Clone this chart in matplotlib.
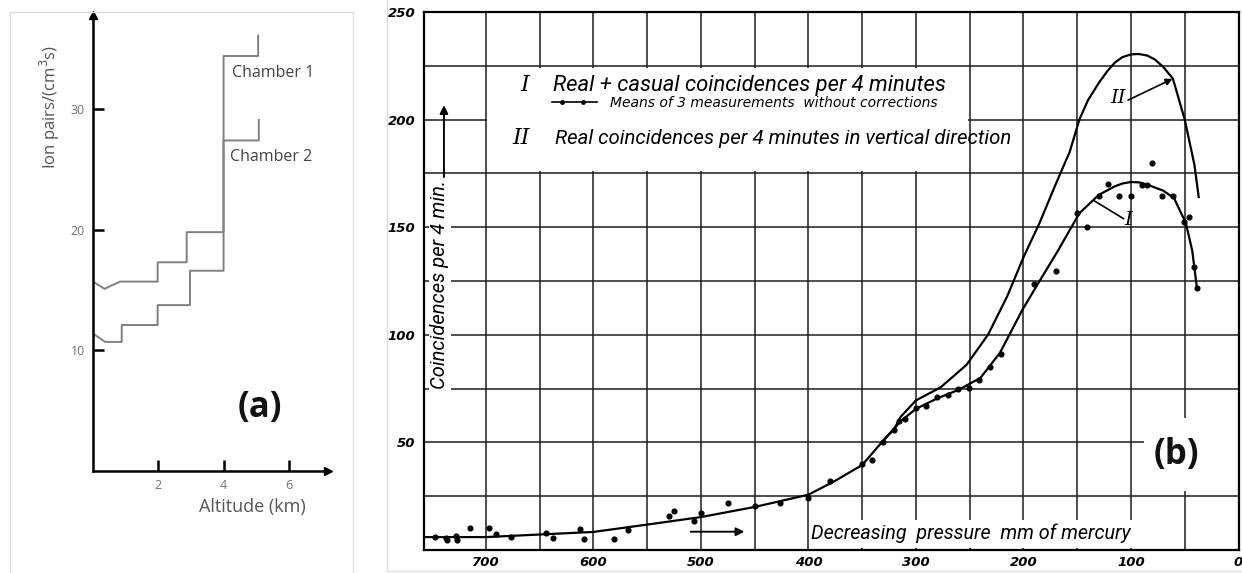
import matplotlib.pyplot as plt
from matplotlib.patches import Rectangle

# ── panel (a): ion pairs vs altitude, two chambers ──
alt_ch1 = [0, 0.35, 0.83, 1.98, 1.98, 2.87, 2.87, 4.0, 4.0, 5.06, 5.06]
ion_ch1 = [15.7, 15.1, 15.7, 15.7, 17.3, 17.3, 19.8, 19.8, 34.4, 34.4, 36.1]
alt_ch2 = [0, 0.37, 0.88, 0.88, 1.98, 1.98, 2.97, 2.97, 4.0, 4.0, 5.08, 5.08]
ion_ch2 = [11.4, 10.7, 10.7, 12.1, 12.1, 13.75, 13.75, 16.6, 16.6, 27.4, 27.4, 29.1]
alt_ticks = [2, 4, 6]
ion_ticks = [10, 20, 30]

# ── panel (b): coincidences vs pressure (mm Hg) ──
# curve I, real + casual coincidences
press_I = [758, 740, 700, 650, 600, 550, 500, 450, 400, 376, 350, 331, 320, 315, 300, 280,
           260, 240, 222, 201, 185, 168, 148, 130, 115, 108, 100, 92, 84, 70, 60, 49, 43, 38.5]
count_I = [6, 6, 6, 7.2, 8.4, 11.8, 15.3, 20, 25.7, 31.9, 39.5, 50.5, 56.5, 59.5, 65.6, 70.5,
           74.5, 80, 91.5, 111.6, 125, 139, 156.5, 165, 169, 170.3, 171, 170.8, 169.6, 167,
           163.5, 152, 139, 121]
# curve II, real coincidences in vertical direction (splits from I near 330 mm)
press_II = [331, 320, 314, 300, 277, 253, 233, 215, 200, 185, 170, 157, 148, 140, 130, 122,
            115, 108, 100, 93, 85, 78, 70, 61, 50, 41, 37]
count_II = [50.5, 56.5, 62, 69.5, 75.6, 86, 100, 118, 136, 152, 170, 185, 200, 209, 217, 222.5,
            226.5, 229, 230.3, 230.5, 229.8, 228, 224.5, 219, 200, 179, 164]
# means of 3 measurements
meas_p = [747, 737, 736, 728, 727, 715, 697, 691, 677, 644, 638, 612, 608.6, 581, 568, 529.5,
          524.6, 506, 500, 475, 450, 426, 400, 380, 350, 340.6, 331, 320.4, 315.7, 310, 300,
          291, 280, 270, 261, 251, 241, 231, 221, 190.4, 169.7, 150.5, 140.5, 130, 121, 111,
          100.4, 90, 85, 80, 71, 60.5, 50.7, 46, 41.5, 39]
meas_c = [6.2, 5.7, 4.5, 6.5, 4.5, 10.3, 10.3, 7.5, 6, 7.7, 5.7, 9.6, 5, 5, 9.3, 15.7,
          18, 13.4, 17, 22, 20.4, 22, 24, 32, 40, 42, 50, 55.7, 60, 61, 65.8,
          67, 71, 72, 75, 75.2, 79, 85, 91, 123.7, 129.8, 156.7, 150, 164.7, 170, 164.7,
          164.7, 169.6, 169.4, 179.8, 164.7, 164.7, 152.5, 154.6, 131.5, 121.8]
press_ticks = [700, 600, 500, 400, 300, 200, 100, 0]
count_ticks = [50, 100, 150, 200, 250]

W, H = 1242, 573
HAND = 'Roboto'
SANS = 'Open Sans'


def box(left, top, right, bottom):
    # pixel box -> [left, bottom, width, height] in figure fraction
    return [left / W, 1 - bottom / H, (right - left) / W, (bottom - top) / H]


fig = plt.figure(figsize=(W / 100, H / 100), dpi=100)

# faint outlines of the two panels
fig.patches.append(Rectangle((10 / W, -0.01), 343 / W, 1 - 12 / H + 0.01,
                             transform=fig.transFigure, fill=False, ec='#dddddd', lw=1))
fig.patches.append(Rectangle((387 / W, 2 / H), 1, 1, transform=fig.transFigure,
                             fill=False, ec='#dddddd', lw=1))

# ─────────────── (a) ───────────────
ax_a = fig.add_axes(box(93, 15, 328, 471))
ax_a.plot(alt_ch1, ion_ch1, color='#808080', lw=1.4)
ax_a.plot(alt_ch2, ion_ch2, color='#808080', lw=1.4)
ax_a.set_xlim(0, 7.2)
ax_a.set_ylim(0, 37.8)
for s in ['top', 'right']:
    ax_a.spines[s].set_visible(False)
for s in ['left', 'bottom']:
    ax_a.spines[s].set_linewidth(1.8)
ax_a.plot(1, 0, '>', color='k', ms=6, transform=ax_a.transAxes, clip_on=False)
ax_a.plot(0, 1, '^', color='k', ms=6, transform=ax_a.transAxes, clip_on=False)
ax_a.set_xticks(alt_ticks)
ax_a.set_yticks(ion_ticks)
ax_a.tick_params(direction='in', length=8, width=1.8, labelsize=9,
                 labelcolor='#707070', pad=6)
for lab in ax_a.get_xticklabels() + ax_a.get_yticklabels():
    lab.set_family(SANS)

ax_a.text(-1.32, 30.2, 'Ion pairs/(cm$^3$s)', rotation=90, ha='center', va='center',
          fontsize=12, color='#555555', family=SANS, clip_on=False)
ax_a.text(4.87, -3.0, 'Altitude (km)', ha='center', va='center',
          fontsize=13, color='#555555', family=SANS, clip_on=False)
ax_a.text(4.25, 33.0, 'Chamber 1', ha='left', va='center', fontsize=11.5,
          color='#444444', family=SANS)
ax_a.text(4.2, 26.0, 'Chamber 2', ha='left', va='center', fontsize=11.5,
          color='#444444', family=SANS)
ax_a.text(5.1, 5.2, '(a)', ha='center', va='center', fontsize=25,
          fontweight='bold', color='#111111', family=SANS)

# ─────────────── (b) ───────────────
ax_b = fig.add_axes(box(423.5, 12, 1238.5, 550))
ax_b.set_xlim(758, 0)
ax_b.set_ylim(0, 250)

# hand-ruled grid
for p in range(50, 701, 50):
    ax_b.axvline(p, color='#1c1c1c', lw=1.1, zorder=1)
for c in range(25, 226, 25):
    ax_b.axhline(c, color='#1c1c1c', lw=1.1, zorder=1)

# blank areas where the grid is left out
for x0, y0, w, h in [(251.5, 176.2, 447, 47.6), (86, 0.8, 311, 13.2), (0.8, 27.5, 87, 34)]:
    ax_b.add_patch(Rectangle((x0, y0), w, h, facecolor='white', edgecolor='none', zorder=2))

ax_b.plot(press_I, count_I, color='k', lw=1.6, zorder=3)
ax_b.plot(press_II, count_II, color='k', lw=1.6, zorder=3)
ax_b.plot(meas_p, meas_c, 'o', color='k', ms=3.4, zorder=3)

for s in ax_b.spines.values():
    s.set_linewidth(1.6)
    s.set_zorder(5)
ax_b.set_xticks(press_ticks)
ax_b.set_yticks(count_ticks)
ax_b.tick_params(length=0, labelsize=9.5)
ax_b.tick_params(axis='y', pad=6)
ax_b.tick_params(axis='x', pad=4)
for lab in ax_b.get_xticklabels() + ax_b.get_yticklabels():
    lab.set_style('italic')
    lab.set_weight('bold')

hand = dict(family=HAND, style='italic', color='k', zorder=4)

# legend block
ax_b.text(663.7, 216, 'I', ha='center', va='center', fontsize=16, family='DejaVu Serif',
          style='italic', zorder=4)
ax_b.text(637.4, 216, 'Real + casual coincidences per 4 minutes', ha='left', va='center',
          fontsize=15.8, **hand)
ax_b.plot([638.9, 597], [208, 208], color='k', lw=1.2, zorder=4)
ax_b.plot([629.6, 609.5], [208, 208], 'o', color='k', ms=2.5, zorder=4)
ax_b.text(584.6, 207.5, 'Means of 3 measurements  without corrections', ha='left',
          va='center', fontsize=10, family='DejaVu Sans', style='italic', zorder=4)
ax_b.text(666.8, 191.3, 'II', ha='center', va='center', fontsize=16, family='DejaVu Serif',
          style='italic', zorder=4)
ax_b.text(635.8, 191.3, 'Real coincidences per 4 minutes in vertical direction', ha='left',
          va='center', fontsize=14.7, **hand)

# axis captions
ax_b.text(743, 123.5, 'Coincidences per 4 min.', rotation=90, ha='center', va='center',
          fontsize=14.5, bbox=dict(facecolor='white', edgecolor='none', pad=1), **hand)
ax_b.annotate('', xy=(739, 208), xytext=(739, 172),
              arrowprops=dict(arrowstyle='-|>', color='k', lw=1.4, mutation_scale=12),
              zorder=4)
ax_b.text(397.5, 7.9, 'Decreasing  pressure  mm of mercury', ha='left', va='center',
          fontsize=14.2, **hand)
ax_b.annotate('', xy=(457, 8.5), xytext=(512, 8.5),
              arrowprops=dict(arrowstyle='-|>', color='k', lw=1.4, mutation_scale=12),
              zorder=4)

# curve labels with leaders
ax_b.text(112, 210, 'II', ha='center', va='center', fontsize=14, family='DejaVu Serif',
          style='italic', zorder=4)
ax_b.annotate('', xy=(59, 219.5), xytext=(105, 208.5),
              arrowprops=dict(arrowstyle='-|>', color='k', lw=1.2, mutation_scale=10),
              zorder=4)
ax_b.text(102.5, 153.4, 'I', ha='center', va='center', fontsize=14, family='DejaVu Serif',
          style='italic', zorder=4)
ax_b.plot([134.6, 107], [162.4, 154], color='k', lw=1.2, zorder=4)

ax_b.text(58, 44, '(b)', ha='center', va='center', fontsize=25, fontweight='bold',
          color='#111111', family=SANS, zorder=4)

plt.savefig('out.png', dpi=100)
